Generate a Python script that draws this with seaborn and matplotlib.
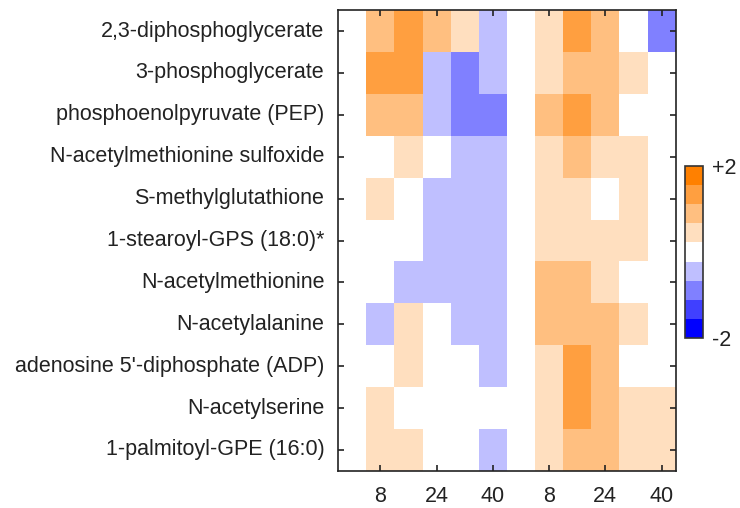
import numpy as np
import pandas as pd
import matplotlib
matplotlib.use("Agg")
import matplotlib.pyplot as plt
from matplotlib.colors import ListedColormap
import seaborn as sns

metabolites = [
    "2,3-diphosphoglycerate",
    "3-phosphoglycerate",
    "phosphoenolpyruvate (PEP)",
    "N-acetylmethionine sulfoxide",
    "S-methylglutathione",
    "1-stearoyl-GPS (18:0)*",
    "N-acetylmethionine",
    "N-acetylalanine",
    "adenosine 5'-diphosphate (ADP)",
    "N-acetylserine",
    "1-palmitoyl-GPE (16:0)",
]
times = [0, 8, 16, 24, 32, 40]
shown_times = [8, 24, 40]

# colour step of each cell, -4 .. +4 (0 = no change), one list per metabolite
group_a = [
    [0, 2, 3, 2, 1, -1],
    [0, 3, 3, -1, -2, -1],
    [0, 2, 2, -1, -2, -2],
    [0, 0, 1, 0, -1, -1],
    [0, 1, 0, -1, -1, -1],
    [0, 0, 0, -1, -1, -1],
    [0, 0, -1, -1, -1, -1],
    [0, -1, 1, 0, -1, -1],
    [0, 0, 1, 0, 0, -1],
    [0, 1, 0, 0, 0, 0],
    [0, 1, 1, 0, 0, -1],
]
group_b = [
    [0, 1, 3, 2, 0, -2],
    [0, 1, 2, 2, 1, 0],
    [0, 2, 3, 2, 0, 0],
    [0, 1, 2, 1, 1, 0],
    [0, 1, 1, 0, 1, 0],
    [0, 1, 1, 1, 1, 0],
    [0, 2, 2, 1, 0, 0],
    [0, 2, 2, 2, 1, 0],
    [0, 1, 3, 2, 0, 0],
    [0, 1, 3, 2, 1, 1],
    [0, 1, 2, 2, 1, 1],
]

colors = ["#0000FF", "#4040FF", "#8080FF", "#BFBFFF", "#FFFFFF",
          "#FFDFBF", "#FFBF80", "#FF9F40", "#FF8000"]
cmap = ListedColormap(colors)

cols = [f"A{t}" for t in times] + [f"B{t}" for t in times]
vals = np.hstack([np.array(group_a), np.array(group_b)]) * 0.5
df = pd.DataFrame(vals, index=metabolites, columns=cols)

plt.rcParams['font.family'] = ['Liberation Sans', 'DejaVu Sans']
txt = '#222222'
fs = 15.5

fig = plt.figure(figsize=(7.4, 5.08), dpi=100)
ax = fig.add_axes([0.457, 0.073, 0.456, 0.907])
cax = fig.add_axes([0.9255, 0.335, 0.024, 0.338])

sns.heatmap(df, cmap=cmap, vmin=-2.25, vmax=2.25, ax=ax, cbar_ax=cax)

for s in ax.spines.values():
    s.set_visible(True)
    s.set_linewidth(1.2)
    s.set_color('#222222')

xpos = [i + 0.5 for i, c in enumerate(cols) if int(c[1:]) in shown_times]
xlab = [c[1:] for c in cols if int(c[1:]) in shown_times]
ax.set_xticks(xpos)
ax.set_xticklabels(xlab, rotation=0, fontsize=fs, color=txt)
ax.set_yticks(np.arange(len(metabolites)) + 0.5)
ax.set_yticklabels(metabolites, rotation=0, fontsize=fs, color=txt)
ax.tick_params(axis='both', direction='in', length=4, width=1.2,
               top=True, right=True, color='#222222')
ax.tick_params(axis='x', pad=11)
ax.tick_params(axis='y', pad=10)
ax.set_xlabel('')
ax.set_ylabel('')

cbar = ax.collections[0].colorbar
cbar.set_ticks([-2.25, 2.25])
cbar.set_ticklabels(['-2', '+2'])
cbar.ax.tick_params(length=0, pad=7, labelsize=fs, labelcolor=txt)
cbar.outline.set_linewidth(1.2)
cbar.outline.set_edgecolor('#333333')

fig.savefig('out.png', dpi=100)
